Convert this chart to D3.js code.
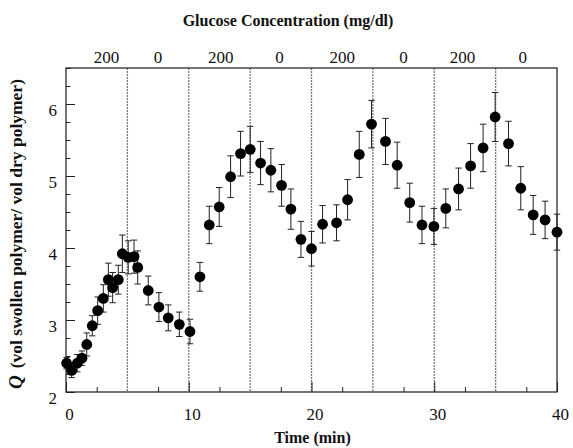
<!DOCTYPE html>
<html>
<head>
<meta charset="utf-8">
<script src="https://cdn.jsdelivr.net/npm/d3@7"></script>
<style>
  html, body { margin: 0; padding: 0; background: #fff; }
  svg { display: block; }
  svg text { font-family: "Liberation Serif", "DejaVu Serif", "Times New Roman", serif; }
</style>
</head>
<body>
<svg id="chart" width="573" height="448"></svg>
<script>
// Swelling ratio Q over time while glucose is switched between 200 and 0 mg/dl
const timeMin = [0.05, 0.46, 0.92, 1.30, 1.69, 2.14, 2.58, 3.04, 3.45, 3.80,
                 4.26, 4.59, 5.07, 5.54, 5.84, 6.70, 7.57, 8.33, 9.23, 10.10,
                 10.91, 11.67, 12.48, 13.41, 14.22, 15.01, 15.85, 16.69, 17.56, 18.32,
                 19.14, 20.00, 20.90, 22.04, 22.94, 23.89, 24.89, 26.03, 26.98, 28.00,
                 29.00, 29.97, 30.94, 31.98, 32.96, 33.98, 34.96, 36.05, 37.05, 38.06,
                 39.03, 40.00];
const qValue = [2.40, 2.30, 2.40, 2.47, 2.66, 2.92, 3.13, 3.30, 3.56, 3.45,
                3.56, 3.92, 3.87, 3.88, 3.73, 3.41, 3.18, 3.03, 2.94, 2.84,
                3.60, 4.32, 4.57, 4.99, 5.31, 5.37, 5.18, 5.08, 4.87, 4.54,
                4.12, 3.99, 4.33, 4.35, 4.67, 5.30, 5.72, 5.48, 5.15, 4.63,
                4.32, 4.30, 4.55, 4.82, 5.14, 5.39, 5.82, 5.45, 4.83, 4.46,
                4.39, 4.22];
const qError = [0.08, 0.10, 0.12, 0.10, 0.16, 0.14, 0.19, 0.19, 0.23, 0.21,
                0.20, 0.26, 0.23, 0.23, 0.23, 0.20, 0.20, 0.18, 0.17, 0.17,
                0.20, 0.26, 0.27, 0.29, 0.31, 0.32, 0.30, 0.30, 0.29, 0.28,
                0.25, 0.24, 0.26, 0.25, 0.28, 0.32, 0.33, 0.32, 0.32, 0.27,
                0.26, 0.25, 0.27, 0.29, 0.31, 0.33, 0.34, 0.31, 0.30, 0.27,
                0.26, 0.25];

// Glucose step labels along the top, and the switching times
const glucoseLabels = ["200", "0", "200", "0", "200", "0", "200", "0"];
const glucoseLabelTime = [3.3, 7.5, 12.6, 17.4, 22.5, 27.5, 32.3, 37.2];
const switchTimes = [5, 10, 15, 20, 25, 30, 35];

const xMajorTicks = [0, 10, 20, 30, 40];
const yMajorTicks = [2, 3, 4, 5, 6];

const SERIF = "'Liberation Serif', 'DejaVu Serif', serif";

const svg = d3.select("#chart").attr("font-family", SERIF);
const x = d3.scaleLinear().domain([0, 40]).range([66, 557]);
const y = d3.scaleLinear().domain([2, 6.5]).range([392, 68]);

const xMinor = d3.range(0, 40.01, 2.5).filter(t => t % 5 !== 0);
const yMinor = d3.range(2, 6.51, 0.25).filter(v => Math.abs(v - Math.round(v)) > 1e-6);

// switching lines
svg.append("g").selectAll("line").data(switchTimes).join("line")
  .attr("x1", d => x(d)).attr("x2", d => x(d))
  .attr("y1", y(6.5)).attr("y2", y(2))
  .attr("stroke", "#7a7a7a").attr("stroke-width", 1.3)
  .attr("stroke-dasharray", "2,1");

// frame
svg.append("rect")
  .attr("x", x(0)).attr("y", y(6.5))
  .attr("width", x(40) - x(0)).attr("height", y(2) - y(6.5))
  .attr("fill", "none").attr("stroke", "#1a1a1a").attr("stroke-width", 1.2);

// y axis (ticks point inward)
const yAxisMinor = d3.axisLeft(y).tickValues(yMinor).tickSize(-4.5).tickFormat("");
svg.append("g").attr("transform", `translate(${x(0)},0)`).call(yAxisMinor)
  .call(g => g.select(".domain").remove())
  .selectAll("line").attr("stroke", "#222");
const yAxis = d3.axisLeft(y).tickValues(yMajorTicks).tickSize(-9).tickPadding(9).tickFormat(d3.format("d"));
const gy = svg.append("g").attr("transform", `translate(${x(0)},0)`).call(yAxis)
  .attr("font-family", SERIF);
gy.select(".domain").remove();
gy.selectAll("line").attr("stroke", "#222");
gy.selectAll("text").attr("font-size", 17).attr("dy", "0.70em").attr("fill", "#111")
  .attr("font-family", SERIF);

// x axis (ticks point inward)
const xAxisMinor = d3.axisBottom(x).tickValues(xMinor).tickSize(-5).tickFormat("");
svg.append("g").attr("transform", `translate(0,${y(2)})`).call(xAxisMinor)
  .call(g => g.select(".domain").remove())
  .selectAll("line").attr("stroke", "#222");
const xAxis = d3.axisBottom(x).tickValues(xMajorTicks).tickSize(-10).tickPadding(16).tickFormat(d3.format("d"));
const gx = svg.append("g").attr("transform", `translate(0,${y(2)})`).call(xAxis)
  .attr("font-family", SERIF);
gx.select(".domain").remove();
gx.selectAll("line").attr("stroke", "#222");
gx.selectAll("text").attr("font-size", 17).attr("dx", 3).attr("fill", "#111")
  .attr("font-family", SERIF);

// error bars
const pts = timeMin.map((t, i) => ({ t, q: qValue[i], e: qError[i] }));
const eb = svg.append("g").attr("stroke", "#222").attr("stroke-width", 1);
eb.selectAll("line.v").data(pts).join("line").attr("class", "v")
  .attr("x1", d => x(d.t)).attr("x2", d => x(d.t))
  .attr("y1", d => y(d.q + d.e)).attr("y2", d => y(d.q - d.e));
eb.selectAll("line.top").data(pts).join("line").attr("class", "top")
  .attr("x1", d => x(d.t) - 3.2).attr("x2", d => x(d.t) + 3.2)
  .attr("y1", d => y(d.q + d.e)).attr("y2", d => y(d.q + d.e));
eb.selectAll("line.bot").data(pts).join("line").attr("class", "bot")
  .attr("x1", d => x(d.t) - 3.2).attr("x2", d => x(d.t) + 3.2)
  .attr("y1", d => y(d.q - d.e)).attr("y2", d => y(d.q - d.e));

// data points
svg.append("g").selectAll("circle").data(pts).join("circle")
  .attr("cx", d => x(d.t)).attr("cy", d => y(d.q)).attr("r", 5.4)
  .attr("fill", "#000");

// glucose labels on top
svg.append("g").selectAll("text").data(glucoseLabels).join("text")
  .attr("x", (d, i) => x(glucoseLabelTime[i])).attr("y", 63)
  .attr("text-anchor", "middle").attr("font-size", 17).attr("fill", "#111")
  .attr("font-family", SERIF)
  .text(d => d);

svg.append("text").attr("x", 288).attr("y", 26)
  .attr("text-anchor", "middle").attr("font-size", 16).attr("font-weight", "bold")
  .attr("font-family", SERIF)
  .attr("fill", "#111").text("Glucose Concentration (mg/dl)");

svg.append("text").attr("x", x(20) + 1).attr("y", 443)
  .attr("text-anchor", "middle").attr("font-size", 16).attr("font-weight", "bold")
  .attr("font-family", SERIF)
  .attr("fill", "#111").text("Time (min)");

const yt = svg.append("text")
  .attr("transform", "translate(22,234) rotate(-90)")
  .attr("text-anchor", "middle").attr("font-size", 17.5).attr("font-weight", "bold")
  .attr("font-family", SERIF)
  .attr("fill", "#111");
yt.append("tspan").attr("font-style", "italic").attr("font-size", 19).text("Q");
yt.append("tspan").attr("dx", 7).text("(vol swollen polymer/ vol dry polymer)");
</script>
</body>
</html>
